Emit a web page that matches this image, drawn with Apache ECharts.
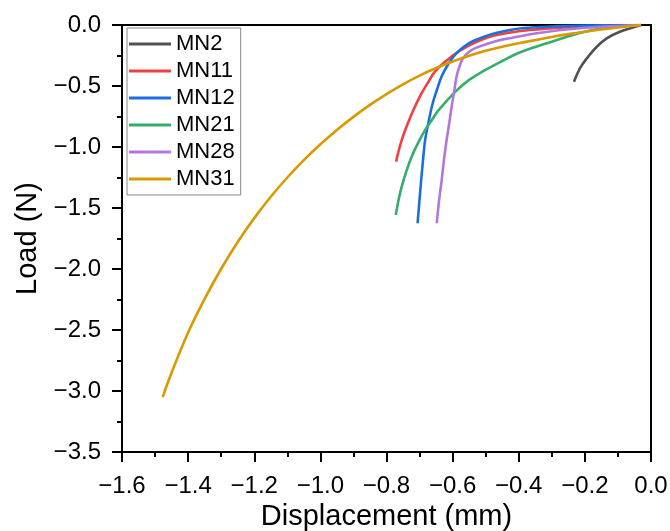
<!DOCTYPE html>
<html>
<head>
<meta charset="utf-8">
<script src="https://cdn.jsdelivr.net/npm/echarts@6/dist/echarts.min.js"></script>
<style>html,body{margin:0;padding:0;background:#fff}#c{width:670px;height:531px}</style>
</head>
<body>
<div id="c"></div>
<script>
const seriesNames = ['MN2', 'MN11', 'MN12', 'MN21', 'MN28', 'MN31'];
const colors = ['#515151', '#F14040', '#1A6FDF', '#37AD6B', '#B177DE', '#D99A00'];

const mn2X = [-0.233, -0.215, -0.194, -0.164, -0.134, -0.094, -0.053, -0.03];
const mn2Y = [-0.465, -0.355, -0.273, -0.178, -0.109, -0.055, -0.019, 0];

const mn11X = [-0.771, -0.757, -0.739, -0.716, -0.694, -0.672, -0.653, -0.618, -0.578, -0.527, -0.467, -0.366, -0.25, -0.12, -0.03];
const mn11Y = [-1.12, -0.97, -0.83, -0.68, -0.56, -0.46, -0.38, -0.29, -0.21, -0.137, -0.082, -0.041, -0.018, -0.006, 0];

const mn12X = [-0.706, -0.701, -0.696, -0.690, -0.683, -0.673, -0.663, -0.648, -0.633, -0.613, -0.593, -0.569, -0.542, -0.507, -0.472, -0.43, -0.391, -0.3, -0.2, -0.03];
const mn12Y = [-1.625, -1.46, -1.30, -1.12, -0.94, -0.80, -0.67, -0.535, -0.42, -0.32, -0.246, -0.185, -0.137, -0.098, -0.068, -0.043, -0.027, -0.012, -0.005, 0];

const mn21X = [-0.772, -0.764, -0.754, -0.740, -0.724, -0.705, -0.683, -0.663, -0.643, -0.593, -0.55, -0.502, -0.45, -0.401, -0.35, -0.30, -0.25, -0.20, -0.15, -0.10, -0.03];
const mn21Y = [-1.557, -1.44, -1.325, -1.20, -1.08, -0.97, -0.86, -0.78, -0.70, -0.55, -0.45, -0.37, -0.295, -0.23, -0.18, -0.137, -0.093, -0.055, -0.03, -0.014, 0];

const mn28X = [-0.648, -0.641, -0.633, -0.626, -0.618, -0.610, -0.603, -0.595, -0.588, -0.578, -0.568, -0.55, -0.532, -0.49, -0.451, -0.4, -0.351, -0.25, -0.15, -0.03];
const mn28Y = [-1.625, -1.44, -1.27, -1.10, -0.94, -0.80, -0.67, -0.54, -0.42, -0.33, -0.27, -0.22, -0.19, -0.15, -0.12, -0.095, -0.07, -0.035, -0.015, 0];

const mn31X = [-1.477, -1.45, -1.40, -1.35, -1.30, -1.25, -1.20, -1.15, -1.10, -1.05, -1.00, -0.95, -0.90, -0.85, -0.80, -0.75, -0.70, -0.65, -0.60, -0.55, -0.50, -0.45, -0.40, -0.35, -0.30, -0.25, -0.20, -0.15, -0.10, -0.03];
const mn31Y = [-3.05, -2.85, -2.52, -2.245, -1.998, -1.778, -1.583, -1.408, -1.25, -1.108, -0.978, -0.86, -0.753, -0.655, -0.566, -0.486, -0.415, -0.353, -0.299, -0.252, -0.212, -0.178, -0.149, -0.124, -0.098, -0.075, -0.055, -0.037, -0.02, 0];

const xTicks = { min: -1.6, max: 0, interval: 0.2 };
const yTicks = { min: -3.5, max: 0, interval: 0.5 };

const allX = [mn2X, mn11X, mn12X, mn21X, mn28X, mn31X];
const allY = [mn2Y, mn11Y, mn12Y, mn21Y, mn28Y, mn31Y];

const fmt = v => v.toFixed(1).replace('-', '\u2212');
const FONT = 'Liberation Sans, Arial, sans-serif';

const chart = echarts.init(document.getElementById('c'), null, { renderer: 'canvas' });
chart.setOption({
  animation: false,
  backgroundColor: '#fff',
  grid: { left: 122, right: 19, top: 25, bottom: 79, outerBoundsMode: 'none', containLabel: false,
          show: true, borderColor: '#000', borderWidth: 2, backgroundColor: 'transparent' },
  legend: {
    orient: 'vertical', left: 127, top: 28,
    data: seriesNames,
    icon: 'rect', itemWidth: 42, itemHeight: 3, itemGap: 5,
    padding: [5, 6, 5, 2],
    borderColor: '#888', borderWidth: 1, backgroundColor: '#fff',
    textStyle: { fontFamily: FONT, fontSize: 22, color: '#000', lineHeight: 22 }
  },
  xAxis: {
    type: 'value', min: xTicks.min, max: xTicks.max, interval: xTicks.interval,
    name: 'Displacement (mm)', nameLocation: 'middle', nameGap: 48,
    nameTextStyle: { fontFamily: FONT, fontSize: 29, color: '#000' },
    axisLine: { onZero: false, lineStyle: { color: '#000', width: 2 } },
    axisTick: { show: true, inside: false, length: 10, lineStyle: { color: '#000', width: 2 } },
    minorTick: { show: true, splitNumber: 2, length: 5, lineStyle: { color: '#000', width: 2 } },
    splitLine: { show: false },
    axisLabel: { fontFamily: FONT, fontSize: 24, color: '#000', margin: 22, formatter: fmt }
  },
  yAxis: {
    type: 'value', min: yTicks.min, max: yTicks.max, interval: yTicks.interval,
    name: 'Load (N)', nameLocation: 'middle', nameGap: 80, nameRotate: 90,
    nameTextStyle: { fontFamily: FONT, fontSize: 29, color: '#000' },
    axisLine: { onZero: false, lineStyle: { color: '#000', width: 2 } },
    axisTick: { show: true, inside: false, length: 10, lineStyle: { color: '#000', width: 2 } },
    minorTick: { show: true, splitNumber: 2, length: 5, lineStyle: { color: '#000', width: 2 } },
    splitLine: { show: false },
    axisLabel: { fontFamily: FONT, fontSize: 24, color: '#000', margin: 21, formatter: fmt }
  },
  series: seriesNames.map((n, i) => ({
    name: n, type: 'line', showSymbol: false, smooth: 0.4,
    color: colors[i],
    lineStyle: { width: 2.6, color: colors[i] },
    data: allX[i].map((x, j) => [x, allY[i][j]])
  }))
});
</script>
</body>
</html>
